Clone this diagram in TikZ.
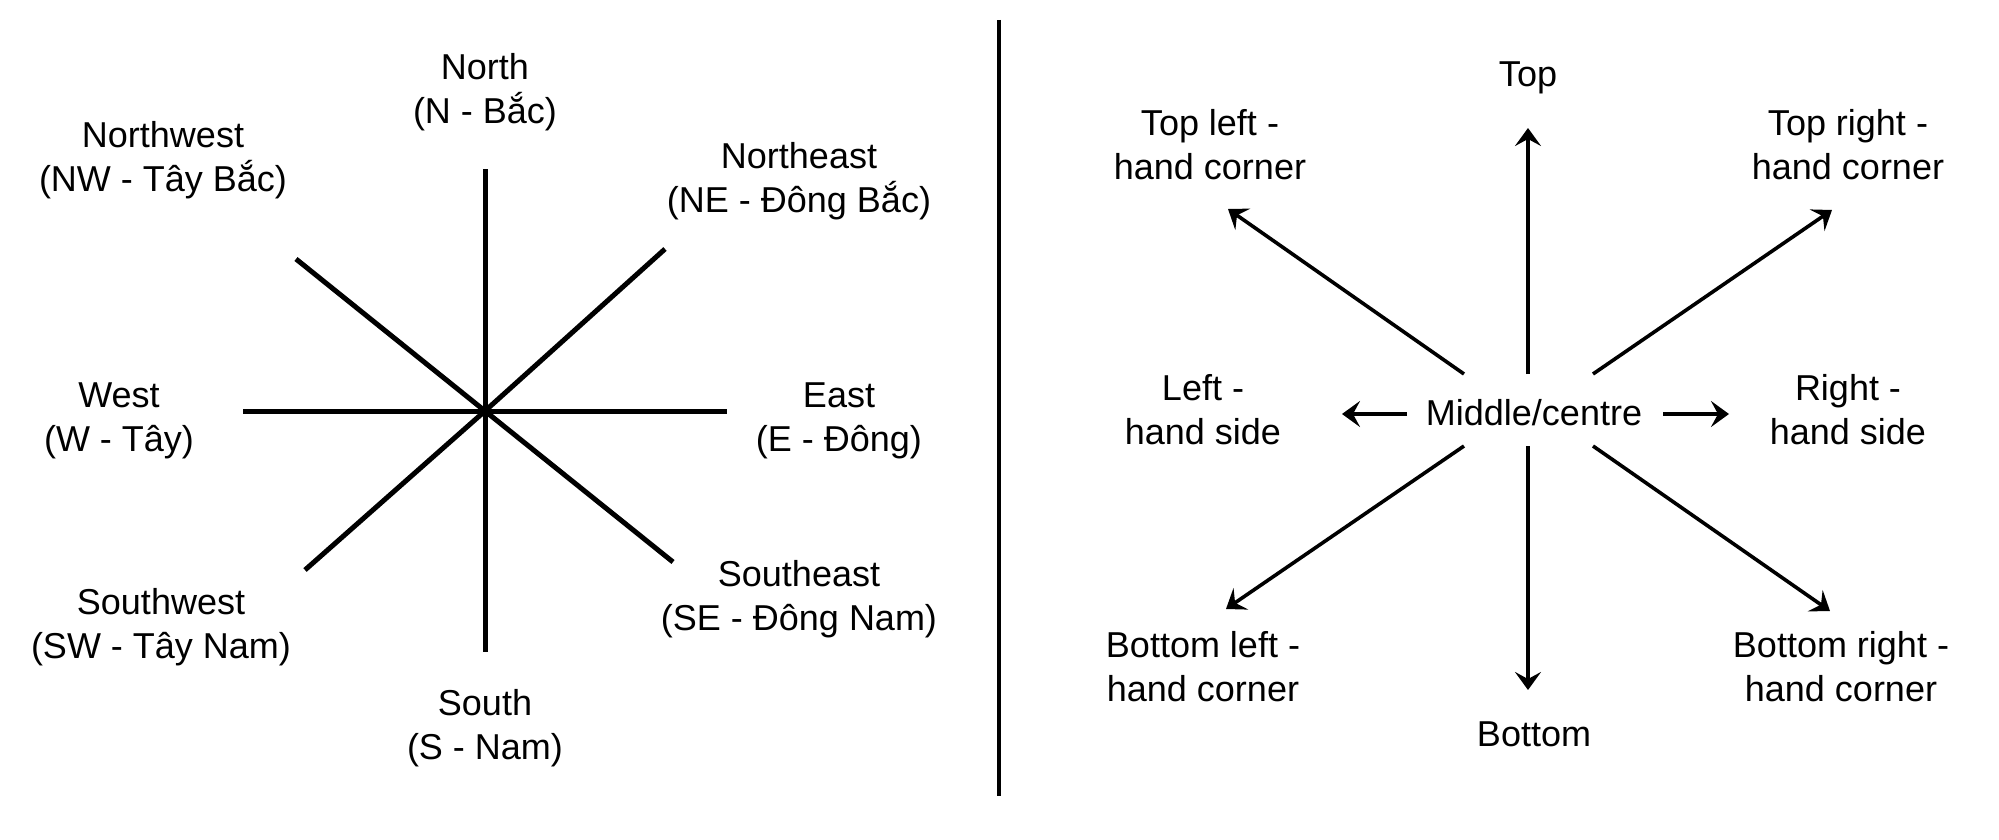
\documentclass[tikz,border=0pt]{standalone}
\usepackage{fontspec}
\setmainfont{Liberation Sans}
\usepackage{tikz}
\usetikzlibrary{positioning, arrows.meta}

\begin{document}
\begin{tikzpicture}[
  x=0.5pt, y=-0.5pt,
  every node/.style={font=\fontsize{18pt}{22pt}\selectfont, align=center, inner sep=0pt},
  ray/.style={line width=2.5pt},
  arr/.style={-{Stealth[length=9pt, width=13pt, inset=3.5pt]}, line width=1.8pt},
  divider/.style={line width=2pt}
]
\useasboundingbox (0,0) rectangle (1999,840);

% compass (left)
\coordinate (c) at (485,411);
\coordinate (cn)  at (485,169);
\coordinate (cs)  at (485,652);
\coordinate (cw)  at (243,411);
\coordinate (ce)  at (727,411);
\coordinate (cne) at (665,249);
\coordinate (cnw) at (296,259);
\coordinate (csw) at (305,570);
\coordinate (cse) at (673,562);
\foreach \d in {cn,cs,cw,ce,cne,cnw,csw,cse} {
  \draw[ray, line cap=butt] (c) -- (\d);
}

\node (north) at (485,92)  {North\\(N - Bắc)};
\node (nw)    at (163,160) {Northwest\\(NW - Tây Bắc)};
\node (ne)    at (799,181) {Northeast\\(NE - Đông Bắc)};
\node (west)  at (119,421) {West\\(W - Tây)};
\node (east)  at (839,421) {East\\(E - Đông)};
\node (sw)    at (161,627) {Southwest\\(SW - Tây Nam)};
\node (se)    at (799,599) {Southeast\\(SE - Đông Nam)};
\node (south) at (485,728) {South\\(S - Nam)};

% divider
\coordinate (dtop) at (999,20);
\coordinate (dbot) at (999,796);
\draw[divider] (dtop) -- (dbot);

% positions (right)
\node (mid)   at (1534,413) {Middle/centre};
\node (top)   at (1528,78)  {Top};
\node (tl)    at (1210,145) {Top left -\\hand corner};
\node (tr)    at (1848,145) {Top right -\\hand corner};
\node (left)  at (1203,410) {Left -\\hand side};
\node (right) at (1848,410) {Right -\\hand side};
\node (bl)    at (1203,667) {Bottom left -\\hand corner};
\node (br)    at (1841,667) {Bottom right -\\hand corner};
\node (bot)   at (1534,734) {Bottom};

\coordinate (m-t)  at (1528,374);  \coordinate (a-t)  at (1528,128);
\coordinate (m-tl) at (1464,374);  \coordinate (a-tl) at (1228,209);
\coordinate (m-tr) at (1593,374);  \coordinate (a-tr) at (1832,210);
\coordinate (m-l)  at (1407,414);  \coordinate (a-l)  at (1342,414);
\coordinate (m-r)  at (1663,414);  \coordinate (a-r)  at (1729,414);
\coordinate (m-bl) at (1464,446);  \coordinate (a-bl) at (1226,609);
\coordinate (m-br) at (1593,446);  \coordinate (a-br) at (1830,611);
\coordinate (m-b)  at (1528,446);  \coordinate (a-b)  at (1528,690);

\foreach \p in {t,tl,tr,l,r,bl,br,b} {
  \draw[arr] (m-\p) -- (a-\p);
}
\end{tikzpicture}
\end{document}
